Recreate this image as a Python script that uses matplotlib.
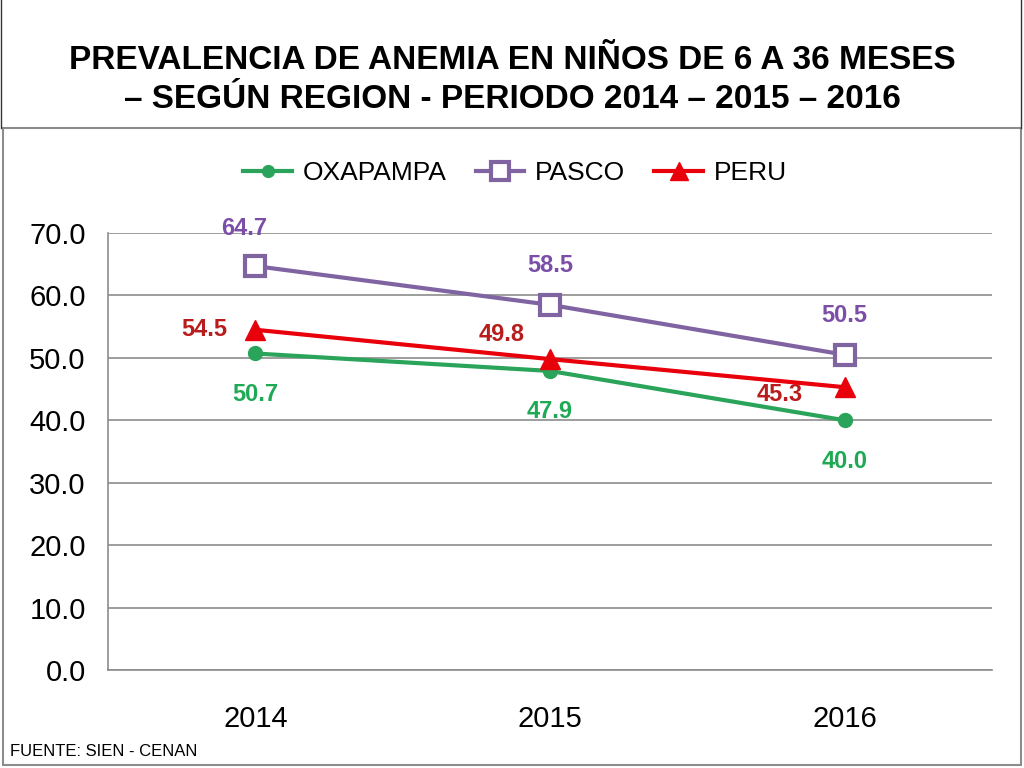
import matplotlib.pyplot as plt
from matplotlib.patches import Rectangle
import numpy as np

# data
years = ['2014', '2015', '2016']
oxapampa = [50.7, 47.9, 40.0]
pasco = [64.7, 58.5, 50.5]
peru = [54.5, 49.8, 45.3]

narrow = ['Liberation Sans Narrow', 'Liberation Sans', 'DejaVu Sans']

fig = plt.figure(figsize=(10.24, 7.68), dpi=100)
ax = fig.add_axes([108 / 1024, 1 - 670 / 768, 884 / 1024, 437 / 768])

x = np.arange(len(years))
c_oxa, c_pas, c_per = '#2aa45a', '#8064a2', '#e8000b'

ax.plot(x, oxapampa, color=c_oxa, lw=3, marker='o', ms=10, label='OXAPAMPA', zorder=3)
ax.plot(x, pasco, color=c_pas, lw=3, marker='s', ms=15, mfc='white', mew=3, label='PASCO', zorder=4)
ax.plot(x, peru, color=c_per, lw=3, marker='^', ms=15, label='PERU', zorder=5)

# value labels
lab = dict(fontsize=17, fontweight='bold', family=narrow, ha='center', va='center')
pas_off = [(-8, 27), (0, 28), (0, 28)]
for i, v in enumerate(pasco):
    ax.annotate(f'{v:.1f}', (x[i], v), xytext=pas_off[i], textcoords='offset points', color='#7b4fa8', **lab)
per_off = [(-37, 0), (-35, 18), (-47, -5)]
for i, v in enumerate(peru):
    ax.annotate(f'{v:.1f}', (x[i], v), xytext=per_off[i], textcoords='offset points', color='#b81c1c', **lab)
for i, v in enumerate(oxapampa):
    ax.annotate(f'{v:.1f}', (x[i], v), xytext=(0, -29.5), textcoords='offset points', color='#1fa955', **lab)

ax.set_xlim(-0.5, 2.5)
ax.set_ylim(0, 70)
ax.set_yticks(np.arange(0, 71, 10))
ax.set_yticklabels([f'{t:.1f}' for t in np.arange(0, 71, 10)], fontsize=21, family=narrow)
ax.set_xticks(x)
ax.set_xticklabels(years, fontsize=21, family=narrow)
ax.tick_params(axis='x', length=0, pad=25)
ax.tick_params(axis='y', length=0, pad=16)
ax.grid(axis='y', color='#8c8c8c', lw=1.2)
ax.set_axisbelow(True)
for s in ['top', 'right']:
    ax.spines[s].set_visible(False)
for s in ['left', 'bottom']:
    ax.spines[s].set_color('#8c8c8c')
    ax.spines[s].set_linewidth(1.2)

fig.legend(loc='center', bbox_to_anchor=(515 / 1024, 1 - 173 / 768), ncol=3, frameon=False,
           prop={'family': narrow, 'size': 19}, handlelength=1.85, columnspacing=1.1, handletextpad=0.4,
           markerscale=0.85)

# chart frame and title area borders
fig.patches.append(Rectangle((3 / 1024, 3 / 768), 1018 / 1024, 637 / 768, transform=fig.transFigure,
                             fill=False, ec='#8c8c8c', lw=1.5))
fig.add_artist(plt.Line2D([1 / 1024, 1 / 1024], [640 / 768, 1], transform=fig.transFigure, color='#333333', lw=1))
fig.add_artist(plt.Line2D([1021 / 1024, 1021 / 1024], [640 / 768, 1], transform=fig.transFigure, color='#333333', lw=1))

fig.text(0.5, 1 - 80 / 768, 'PREVALENCIA DE ANEMIA EN NIÑOS DE 6 A 36 MESES\n– SEGÚN REGION - PERIODO 2014 – 2015 – 2016',
         ha='center', va='center', fontsize=24, fontweight='bold', family=['Liberation Sans', 'DejaVu Sans'],
         linespacing=1.3)
fig.text(10 / 1024, 1 - 752 / 768, 'FUENTE: SIEN - CENAN', ha='left', va='center', fontsize=12,
         family=['Liberation Sans', 'DejaVu Sans'])

fig.savefig('out.png', dpi=100)
